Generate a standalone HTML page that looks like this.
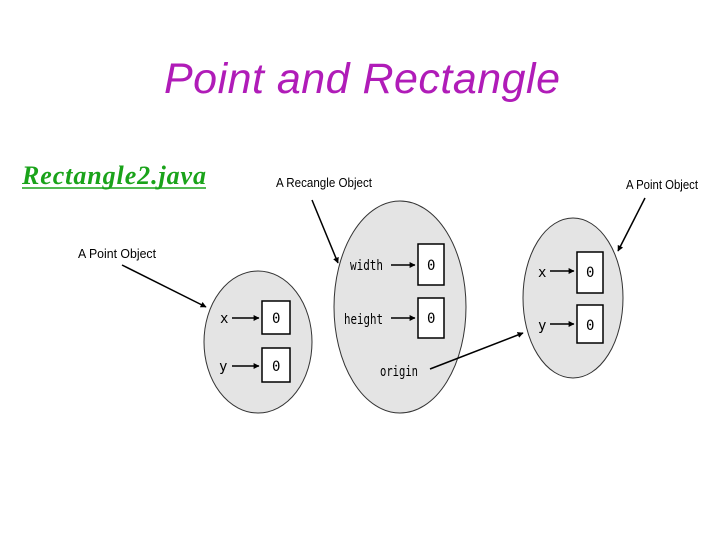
<!DOCTYPE html>
<html><head><meta charset="utf-8"><style>
html,body{margin:0;padding:0;background:#fff;width:720px;height:540px;overflow:hidden}
</style></head><body>
<svg width="720" height="540" viewBox="0 0 720 540" xmlns="http://www.w3.org/2000/svg" font-family="Liberation Sans, sans-serif">
<defs><marker id="a" viewBox="0 0 10 10" refX="9" refY="5" markerWidth="4" markerHeight="4" orient="auto"><path d="M0,0L10,5L0,10z" fill="#000"/></marker></defs>
<text x="362" y="93" text-anchor="middle" font-size="43" font-style="italic" fill="#b01cb8" textLength="396">Point and Rectangle</text>
<text x="22" y="184" font-family="Liberation Serif, serif" font-size="26" font-weight="bold" font-style="italic" fill="#1aa31a" textLength="184">Rectangle2.java</text>
<line x1="22" y1="188" x2="206" y2="188" stroke="#1aa31a" stroke-width="1.5"/>
<g fill="#e4e4e4" stroke="#333" stroke-width="1">
<ellipse cx="258" cy="342" rx="54" ry="71"/>
<ellipse cx="400" cy="307" rx="66" ry="106"/>
<ellipse cx="573" cy="298" rx="50" ry="80"/>
</g>
<g fill="#fff" stroke="#000" stroke-width="1.5">
<rect x="262" y="301" width="28" height="33"/><rect x="262" y="348" width="28" height="34"/>
<rect x="418" y="244" width="26" height="41"/><rect x="418" y="298" width="26" height="40"/>
<rect x="577" y="252" width="26" height="41"/><rect x="577" y="305" width="26" height="38"/>
</g>
<g font-size="14" fill="#000" font-family="DejaVu Sans Mono, monospace">
<text x="220" y="323">x</text><text x="219" y="371">y</text>
<text x="350" y="270" textLength="33" lengthAdjust="spacingAndGlyphs">width</text>
<text x="344" y="324" textLength="39" lengthAdjust="spacingAndGlyphs">height</text>
<text x="380" y="376" textLength="38" lengthAdjust="spacingAndGlyphs">origin</text>
<text x="538" y="277">x</text><text x="538" y="330">y</text>
<text x="272" y="323">0</text><text x="272" y="371">0</text>
<text x="427" y="270">0</text><text x="427" y="323">0</text>
<text x="586" y="277">0</text><text x="586" y="330">0</text>
</g>
<g stroke="#000" stroke-width="1.5" marker-end="url(#a)">
<line x1="232" y1="318" x2="259" y2="318"/><line x1="232" y1="366" x2="259" y2="366"/>
<line x1="391" y1="265" x2="415" y2="265"/><line x1="391" y1="318" x2="415" y2="318"/>
<line x1="550" y1="271" x2="574" y2="271"/><line x1="550" y1="324" x2="574" y2="324"/>
<line x1="122" y1="265" x2="206" y2="307"/>
<line x1="312" y1="200" x2="338" y2="263"/>
<line x1="430" y1="369" x2="523" y2="333"/>
<line x1="645" y1="198" x2="618" y2="251"/>
</g>
<g font-size="13" fill="#000" font-family="Liberation Sans Narrow, Liberation Sans, sans-serif">
<text x="78" y="258" textLength="78" lengthAdjust="spacingAndGlyphs">A Point Object</text>
<text x="276" y="187" textLength="96" lengthAdjust="spacingAndGlyphs">A Recangle Object</text>
<text x="626" y="189" textLength="72" lengthAdjust="spacingAndGlyphs">A Point Object</text>
</g>
</svg>
</body></html>
